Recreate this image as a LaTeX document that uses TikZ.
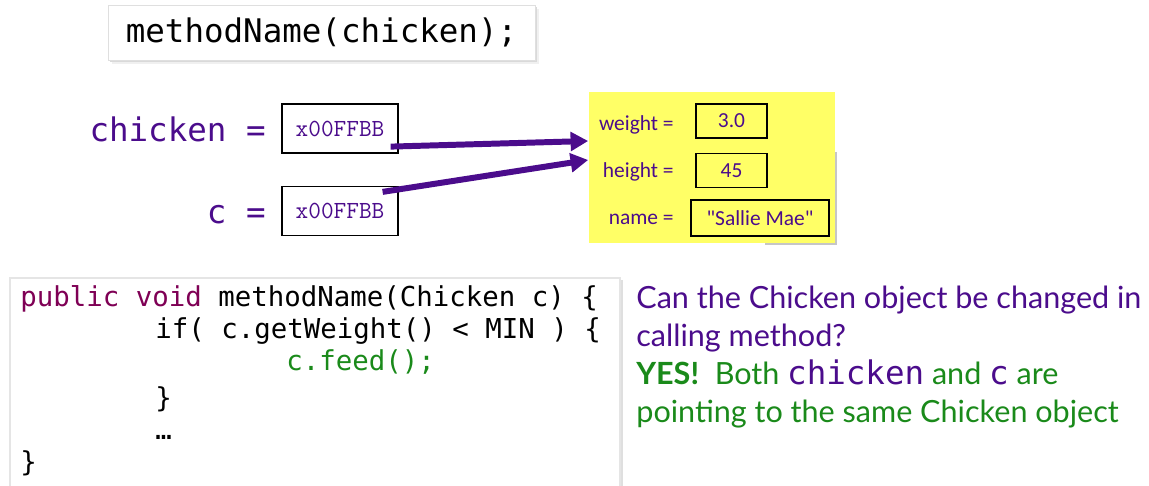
\documentclass[tikz,border=0pt]{standalone}
\usepackage{fontspec}
\setmainfont{Lato}
\setmonofont{DejaVu Sans Mono}
\newfontfamily\addrfont{Latin Modern Mono}
\newfontfamily\fieldfont{Carlito}
\usetikzlibrary{arrows.meta,positioning}

\definecolor{refpurple}{HTML}{4B0C8C}
\definecolor{keypurple}{HTML}{7F0055}
\definecolor{okgreen}{HTML}{1A8A1A}
\definecolor{heapyellow}{HTML}{FFFF66}

\tikzset{
	addrbox/.style={draw=black,line width=0.7pt,minimum width=2.32cm,minimum height=0.98cm,inner sep=0pt,text=refpurple,font=\addrfont\fontsize{14}{16}\selectfont},
	valbox/.style={draw=black,line width=0.9pt,minimum height=0.68cm,inner sep=0pt,text=refpurple,font=\fieldfont\fontsize{12.2}{14}\selectfont},
	fieldlbl/.style={anchor=base east,inner sep=0pt,text=refpurple,font=\fieldfont\fontsize{12.2}{14}\selectfont},
	varlbl/.style={anchor=base east,inner sep=0pt,text=refpurple,font=\ttfamily\fontsize{18.5}{22}\selectfont},
	codeline/.style={anchor=base west,inner sep=0pt,font=\ttfamily\fontsize{15.6}{18}\selectfont},
	refarrow/.style={draw=refpurple,line width=3.4pt,-{Triangle[length=10pt,width=10.5pt]}}
}

\begin{document}
\begin{tikzpicture}[x=0.02cm,y=-0.02cm]
	\useasboundingbox [fill=white] (0,0) rectangle (1149,486);

	\fill [gray!12] (112,9) rectangle (539,64);
	\fill [gray!30] (110,7) rectangle (537,62);
	\node [draw=gray!25,fill=white,minimum width=8.54cm,minimum height=1.1cm,inner sep=0pt,font=\ttfamily\fontsize{18.5}{22}\selectfont] (call) at (321.5,32.5) {methodName(chicken);};

	\node [varlbl] (chickvar) at (266,142) {chicken =};
	\node [varlbl] (cvar) at (266,224) {c =};
	\node [addrbox] (chickbox) at (340,128.5) {x00FFBB};
	\node [addrbox] (cbox) at (340,211) {x00FFBB};

	\draw [gray!45,line width=1pt] (765,244) -- (836,244) -- (836,152);
	\node [fill=heapyellow,minimum width=4.94cm,minimum height=3.02cm,inner sep=0pt] (obj) at (712,167.5) {};
	\node [fieldlbl] (weightlbl) at (674,131) {weight =};
	\node [fieldlbl] (heightlbl) at (674,178) {height =};
	\node [fieldlbl] (namelbl) at (674,225) {name =};
	\node [valbox,minimum width=1.42cm] (weightval) at (731.5,121) {3.0};
	\node [valbox,minimum width=1.42cm] (heightval) at (731.5,170.5) {45};
	\node [valbox,minimum width=2.76cm,minimum height=0.72cm] (nameval) at (760,218) {"Sallie Mae"};

	\coordinate (chickout) at ([shift={(-8,-7)}]chickbox.south east);
	\coordinate (cout) at ([shift={(-16,6)}]cbox.north east);
	\draw [refarrow] (chickout) -- ([shift={(0,-26.5)}]obj.west);
	\draw [refarrow] (cout) -- ([shift={(0,-7.5)}]obj.west);

	\draw [gray!25,line width=2pt] (621,280) -- (621,490);
	\draw [gray!20,line width=0.6pt] (10,490) |- (620,278) -- (620,490);
	\node [codeline] (sig) at (20,306) {\textcolor{keypurple}{public void} methodName(Chicken c) \{};
	\node [codeline] (iftest) at (155,338) {if( c.getWeight() < MIN ) \{};
	\node [codeline,text=okgreen] (feed) at (286,370) {c.feed();};
	\node [codeline] (ifclose) at (155,407) {\}};
	\node [codeline] (more) at (155,439) {…};
	\node [codeline] (sigclose) at (20,471) {\}};

	\node [anchor=north west,align=left,inner sep=0pt,text=refpurple,font=\fontsize{17.4}{21.6}\selectfont] (answer) at (636,286) {Can the Chicken object be changed in\\calling method?\\\textcolor{okgreen}{\textbf{YES!}\ \ Both} {\ttfamily\fontsize{18.5}{21.6}\selectfont chicken} \textcolor{okgreen}{and} {\ttfamily\fontsize{18.5}{21.6}\selectfont c} \textcolor{okgreen}{are}\\\textcolor{okgreen}{pointing to the same Chicken object}};
\end{tikzpicture}
\end{document}
